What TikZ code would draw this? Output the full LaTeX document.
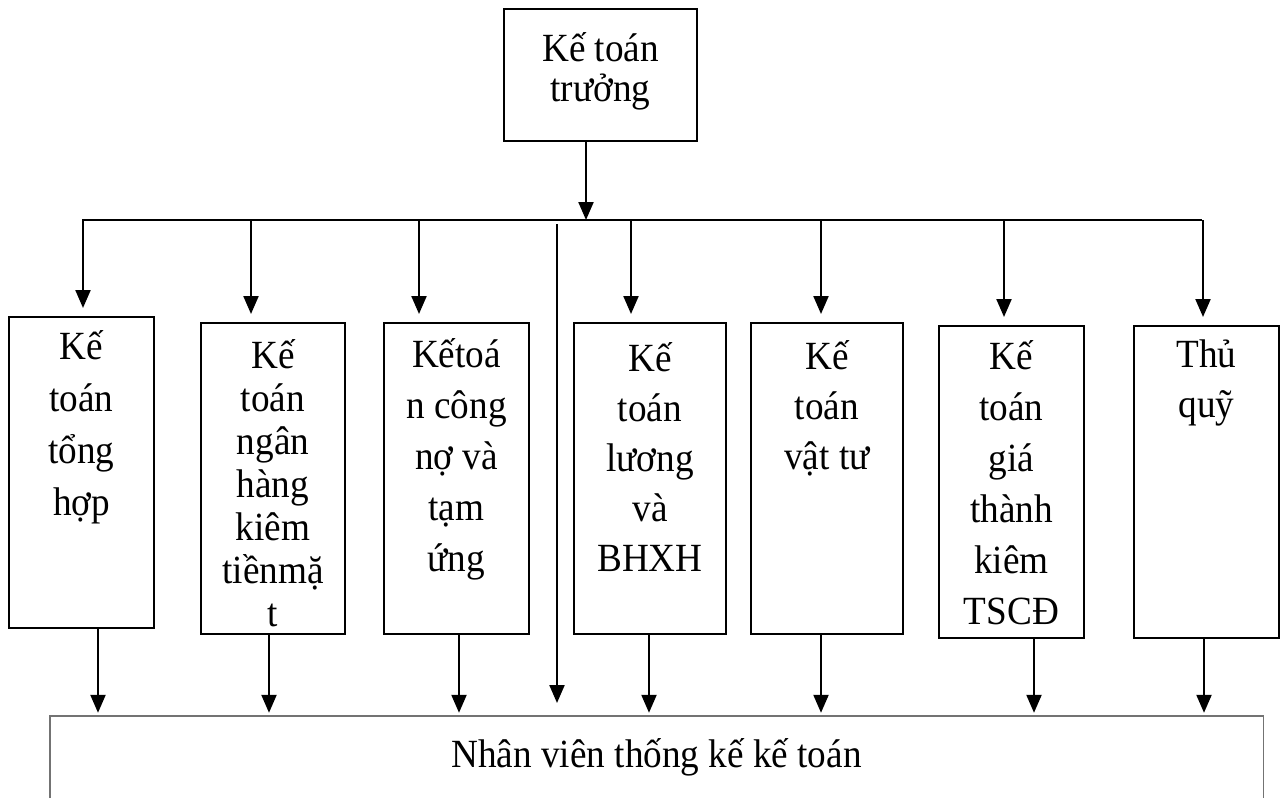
\documentclass[tikz,border=0pt]{standalone}
\usepackage{fontspec}
\setmainfont{Liberation Serif}[FakeStretch=0.93]
\usetikzlibrary{arrows.meta}
\usetikzlibrary{positioning}

\begin{document}
\begin{tikzpicture}[x=1pt,y=-1pt,
    box/.style={draw,line width=2pt,anchor=north west,inner sep=0pt},
    txt/.style={align=center,inner sep=0pt,anchor=north},
    arr/.style={-{Triangle[width=15pt,length=18pt]},line width=2.2pt},
    bus/.style={line width=2pt}]
    \useasboundingbox (0,0) rectangle (1285,800);

    % boxes
    \node[box,minimum width=193pt,minimum height=132pt] (chief) at (503,8) {};
    \node[box,minimum width=145pt,minimum height=311pt] (b1) at (8,316) {};
    \node[box,minimum width=144pt,minimum height=311pt] (b2) at (200,322) {};
    \node[box,minimum width=145pt,minimum height=311pt] (b3) at (383,322) {};
    \node[box,minimum width=152pt,minimum height=311pt] (b4) at (573,322) {};
    \node[box,minimum width=152pt,minimum height=311pt] (b5) at (750,322) {};
    \node[box,minimum width=145pt,minimum height=312pt] (b6) at (938,325) {};
    \node[box,minimum width=145pt,minimum height=312pt] (b7) at (1133,325) {};
    \node[inner sep=0pt,minimum width=1213pt,minimum height=82pt,
        font=\fontsize{40}{44}\selectfont] (staff) at (656.5,757) {Nhân viên thống kế kế toán};
    \draw[draw=black!55,line width=1.4pt] (staff.south west) -- (staff.north west)
        -- (staff.north east) -- (staff.south east);

    % texts
    \node[txt,font=\fontsize{40}{40}\selectfont,below=24pt of chief.north] (tchief) {Kế toán\\trưởng};
    \node[txt,font=\fontsize{40}{52}\selectfont,below=14pt of b1.north] (t1) {Kế\\toán\\tổng\\hợp};
    \node[txt,font=\fontsize{40}{43}\selectfont,below=17pt of b2.north] (t2) {Kế\\toán\\ngân\\hàng\\kiêm\\tiềnmặ\\t};
    \node[txt,font=\fontsize{40}{51}\selectfont,below=16pt of b3.north] (t3) {Kếtoá\\n công\\nợ và\\tạm\\ứng};
    \node[txt,font=\fontsize{40}{50}\selectfont,below=20pt of b4.north] (t4) {Kế\\toán\\lương\\và\\BHXH};
    \node[txt,font=\fontsize{40}{50}\selectfont,below=18pt of b5.north] (t5) {Kế\\toán\\vật tư};
    \node[txt,font=\fontsize{40}{51}\selectfont,below=15pt of b6.north] (t6) {Kế\\toán\\giá\\thành\\kiêm\\TSCĐ};
    \node[txt,font=\fontsize{40}{50}\selectfont,below=15pt of b7.north] (t7) {Thủ\\quỹ};

    % connectors
    \coordinate (busL) at (82,220);
    \coordinate (busR) at (1202,220);
    \coordinate (midTop) at (557,224);
    \coordinate (midEnd) at (557,703);
    \draw[bus] (busL) -- (busR);
    \draw[arr] ([xshift=-14.5pt]chief.south) -- ([xshift=-14.5pt]chief.south |- busL);
    \foreach \b/\s in {b1/1.5,b2/-22,b3/-37.5,b4/-19,b5/-6,b6/-7.5,b7/-3.5}
        \draw[arr] ([xshift=\s pt]\b.north |- busL) -- ([xshift=\s pt,yshift=8pt]\b.north);
    \draw[arr] (midTop) -- (midEnd);
    \foreach \b/\s in {b1/16.5,b2/-4,b3/2.5,b4/-1,b5/-6,b6/22.5,b7/-2.5}
        \draw[arr,shorten >=3pt] ([xshift=\s pt]\b.south) -- ([xshift=\s pt]\b.south |- staff.north);
\end{tikzpicture}
\end{document}
